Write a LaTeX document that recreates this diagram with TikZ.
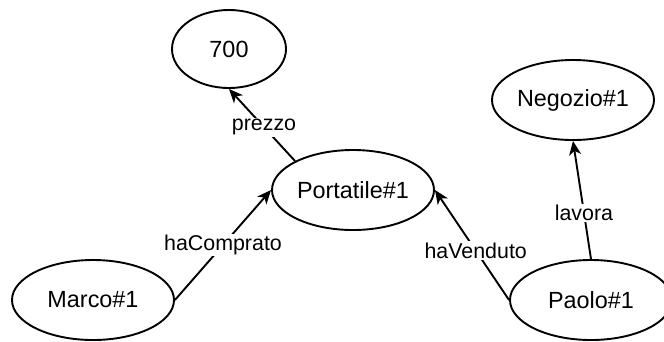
\documentclass[tikz,border=0pt]{standalone}
\usepackage{fontspec}
\setmainfont{Liberation Sans}
\usetikzlibrary{shapes.geometric,arrows.meta}
\tikzset{
  ent/.style={ellipse, draw=black, line width=1.9pt, fill=white, inner sep=0pt,
    minimum width=162pt, minimum height=80pt,
    font=\fontsize{23.4}{28}\selectfont},
  rel/.style={draw=black, line width=1.9pt,
    -{Stealth[length=14pt,width=12pt,inset=4pt]}},
  lbl/.style={fill=white, inner sep=1.5pt, font=\fontsize{21.4}{26}\selectfont}
}
\begin{document}
\begin{tikzpicture}[x=1pt,y=-1pt]
\useasboundingbox (0,0) rectangle (664,341);
\clip (0,0) rectangle (664,341);
\node[ent, minimum width=114pt, minimum height=78pt] (p700) at (229,49) {700};
\node[ent] (neg) at (573,100) {Negozio\#1};
\node[ent] (port) at (353,190) {Portatile\#1};
\node[ent] (marco) at (93,300) {Marco\#1};
\node[ent] (paolo) at (591,300) {Paolo\#1};
\draw[rel] (port.north west) -- (p700.south) node[lbl, pos=0.47] {prezzo};
\draw[rel] (marco.east) -- (port.west) node[lbl, pos=0.5] {haComprato};
\draw[rel] (paolo.west) -- (port.east) node[lbl, pos=0.45] {haVenduto};
\draw[rel] (paolo.north) -- (neg.south) node[lbl, pos=0.39] {lavora};
\end{tikzpicture}
\end{document}
